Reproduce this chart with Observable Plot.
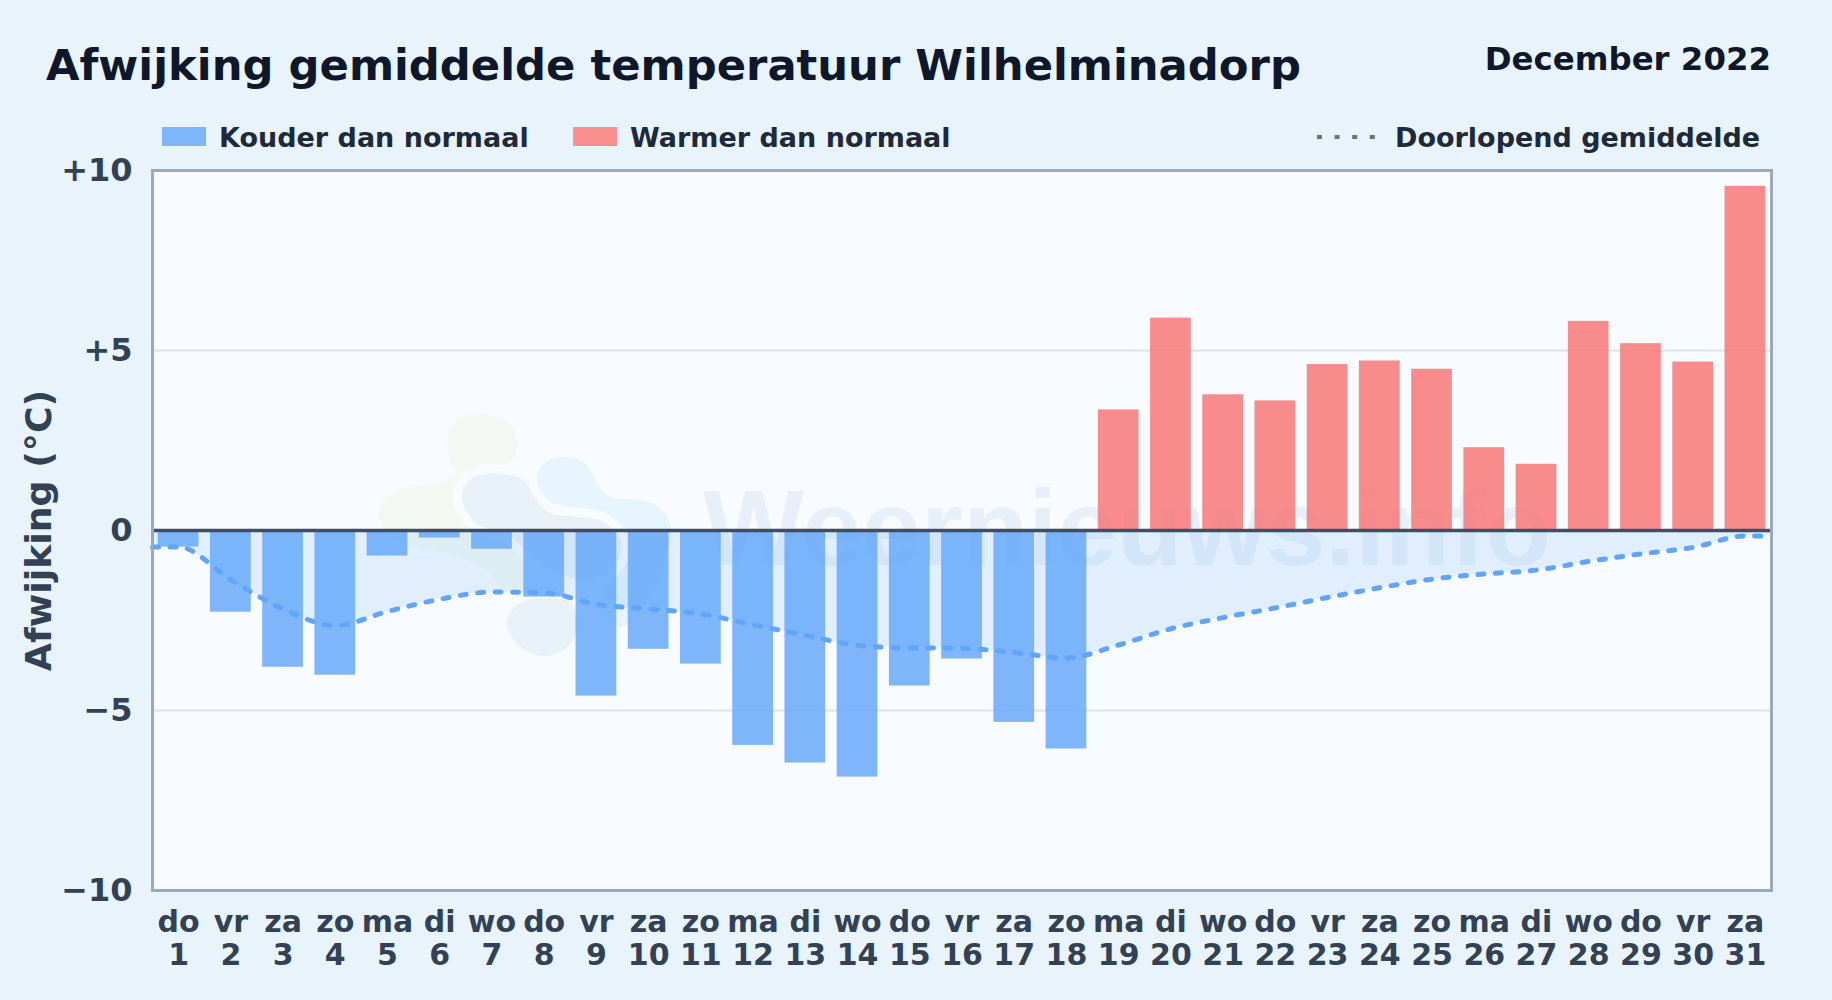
<!DOCTYPE html>
<html lang="nl">
<head>
<meta charset="utf-8">
<title>Afwijking gemiddelde temperatuur Wilhelminadorp</title>
<script src="https://cdn.jsdelivr.net/npm/d3@7"></script>
<script src="https://cdn.jsdelivr.net/npm/@observablehq/plot@0.6"></script>
<style>
  html, body { margin: 0; padding: 0; background: #e8f3fc; }
  body { width: 1832px; height: 1000px; position: relative; overflow: hidden; font-family: "DejaVu Sans", sans-serif; font-weight: 700; }
  .t { position: absolute; white-space: nowrap; line-height: 1; }
  #title { left: 46px; top: 44px; font-size: 43.3px; color: #0f172a; }
  #period { right: 61px; top: 43px; font-size: 32.4px; color: #0f172a; }
  .leg { top: 124px; font-size: 27px; color: #1e293b; }
  .sw { position: absolute; top: 127px; height: 19px; width: 44px; }
  #plot { position: absolute; left: 0; top: 120px; }
  #plot svg { display: block; background: transparent; }
</style>
</head>
<body>
<div id="title" class="t">Afwijking gemiddelde temperatuur Wilhelminadorp</div>
<div id="period" class="t">December 2022</div>
<div class="sw" style="left:162px;background:#7eb6fb"></div>
<div class="t leg" style="left:219px">Kouder dan normaal</div>
<div class="sw" style="left:573px;background:#f98f8f"></div>
<div class="t leg" style="left:630px">Warmer dan normaal</div>
<svg style="position:absolute;left:1317px;top:130px" width="60" height="14"><line x1="0" x2="58" y1="7" y2="7" stroke="#64748b" stroke-width="4" stroke-dasharray="5,12.6"/></svg>
<div class="t leg" style="left:1395px">Doorlopend gemiddelde</div>
<div id="plot"></div>
<script>
const days = d3.range(1, 32);
const dayNames = ["do","vr","za","zo","ma","di","wo","do","vr","za","zo","ma","di","wo","do","vr","za","zo","ma","di","wo","do","vr","za","zo","ma","di","wo","do","vr","za"];
const deviation = [-0.46,-2.27,-3.80,-4.02,-0.71,-0.21,-0.52,-1.85,-4.60,-3.30,-3.71,-5.97,-6.46,-6.85,-4.32,-3.57,-5.33,-6.07,3.35,5.90,3.77,3.60,4.61,4.71,4.48,2.30,1.84,5.81,5.19,4.68,9.56];
const runningMean = [-0.46,-1.37,-2.18,-2.64,-2.25,-1.91,-1.71,-1.73,-2.05,-2.18,-2.32,-2.62,-2.91,-3.19,-3.26,-3.27,-3.39,-3.54,-3.18,-2.73,-2.42,-2.15,-1.86,-1.59,-1.35,-1.21,-1.10,-0.86,-0.65,-0.47,-0.15];
const yTicks = [-10,-5,0,5,10];
const gridTicks = [-5,5];

const bars = days.map((d,i) => ({day:d, x1:d-0.39, x2:d+0.39, v:deviation[i]}));
const mean = [{x:0.5,y:runningMean[0]}, ...days.map((d,i)=>({x:d,y:runningMean[i]})), {x:31.5,y:runningMean[30]}];

// Faint site watermark behind the data (decoration only)
function watermark(index, scales, values, dims) {
  const ns = "http://www.w3.org/2000/svg";
  const g = document.createElementNS(ns, "g");
  const blob = d3.line().curve(d3.curveCatmullRomClosed.alpha(0.5))
    .x(p => 360 + p[0] / 3).y(p => 280 + p[1] / 3);
  const shapes = [
    ["#f3f9f2", [[265,100],[290,58],[370,40],[440,65],[472,130],[450,185],[370,205],[310,215],[250,245],[130,265],[70,300],[55,345],[80,400],[130,430],[300,470],[380,510],[440,570],[490,560],[480,400],[380,280],[280,200]]],
    ["#e6f4fd", [[530,230],[560,185],[620,172],[680,195],[710,250],[750,290],[830,298],[900,325],[930,375],[925,450],[880,560],[790,680],[720,640],[740,500],[640,330],[560,300]]],
    ["#e8f0f8", [[305,290],[340,232],[420,222],[490,240],[525,295],[570,340],[650,350],[730,365],[785,430],[760,500],[680,540],[600,520],[520,470],[440,400],[350,370]]],
    ["#e8f0f8", [[440,670],[470,615],[560,595],[635,612],[648,700],[610,750],[540,768],[470,730]]]
  ];
  for (const [fill, pts] of shapes) {
    const p = document.createElementNS(ns, "path");
    p.setAttribute("d", blob(pts));
    p.setAttribute("fill", fill);
    p.setAttribute("stroke", "#f8fbff");
    p.setAttribute("stroke-width", "18");
    p.setAttribute("paint-order", "stroke");
    g.appendChild(p);
  }
  const t = document.createElementNS(ns, "text");
  t.textContent = "Weernieuws.info";
  t.setAttribute("x", 703); t.setAttribute("y", 445);
  t.setAttribute("text-anchor", "start");
  t.setAttribute("font-family", "Liberation Sans");
  t.setAttribute("font-weight", "700");
  t.setAttribute("font-size", "107");
  t.setAttribute("fill", "#e7f0f9");
  g.appendChild(t);
  return g;
}

const chart = Plot.plot({
  width: 1832, height: 880,
  marginTop: 50, marginBottom: 110, marginLeft: 152, marginRight: 61,
  style: {background: "transparent", fontFamily: "DejaVu Sans", overflow: "visible"},
  x: {domain: [0.5, 31.5]},
  y: {domain: [-10, 10]},
  marks: [
    Plot.frame({fill: "#f8fbff", stroke: "none"}),
    watermark,
    Plot.ruleY(gridTicks, {stroke: "#dde4ea", strokeWidth: 2}),
    Plot.areaY(mean, {x: "x", y1: 0, y2: "y", fill: "#60a5fa", fillOpacity: 0.15, curve: "monotone-x"}),
    Plot.rect(bars.filter(d => d.v < 0), {x1: "x1", x2: "x2", y1: 0, y2: "v", fill: "#60a5fa", fillOpacity: 0.8}),
    Plot.rect(bars.filter(d => d.v >= 0), {x1: "x1", x2: "x2", y1: 0, y2: "v", fill: "#f87171", fillOpacity: 0.8}),
    Plot.lineY(mean, {x: "x", y: "y", stroke: "#60a5fa", strokeWidth: 5, strokeDasharray: "6,11.5", strokeLinecap: "round", curve: "monotone-x"}),
    Plot.ruleY([0], {stroke: "#3f4e63", strokeWidth: 3.6}),
    Plot.frame({stroke: "#9aa9bd", strokeWidth: 3}),
    Plot.axisY({ticks: yTicks, tickFormat: d => d > 0 ? "+" + d : d < 0 ? "\u2212" + (-d) : "0", tickSize: 0, tickPadding: 20, label: null, fontSize: 32, fontWeight: 700, fill: "#334155"}),
    Plot.axisX({ticks: days, tickFormat: d => dayNames[d-1] + "\n" + d, tickSize: 0, tickPadding: 17, label: null, fontSize: 30, fontWeight: 700, fill: "#334155", lineHeight: 1.13}),
    Plot.text(["Afwijking (\u00b0C)"], {frameAnchor: "left", textAnchor: "middle", rotate: -90, dx: -113, fontSize: 36.3, fontWeight: 700, fill: "#334155"})
  ]
});
document.getElementById("plot").appendChild(chart);
</script>
</body>
</html>
